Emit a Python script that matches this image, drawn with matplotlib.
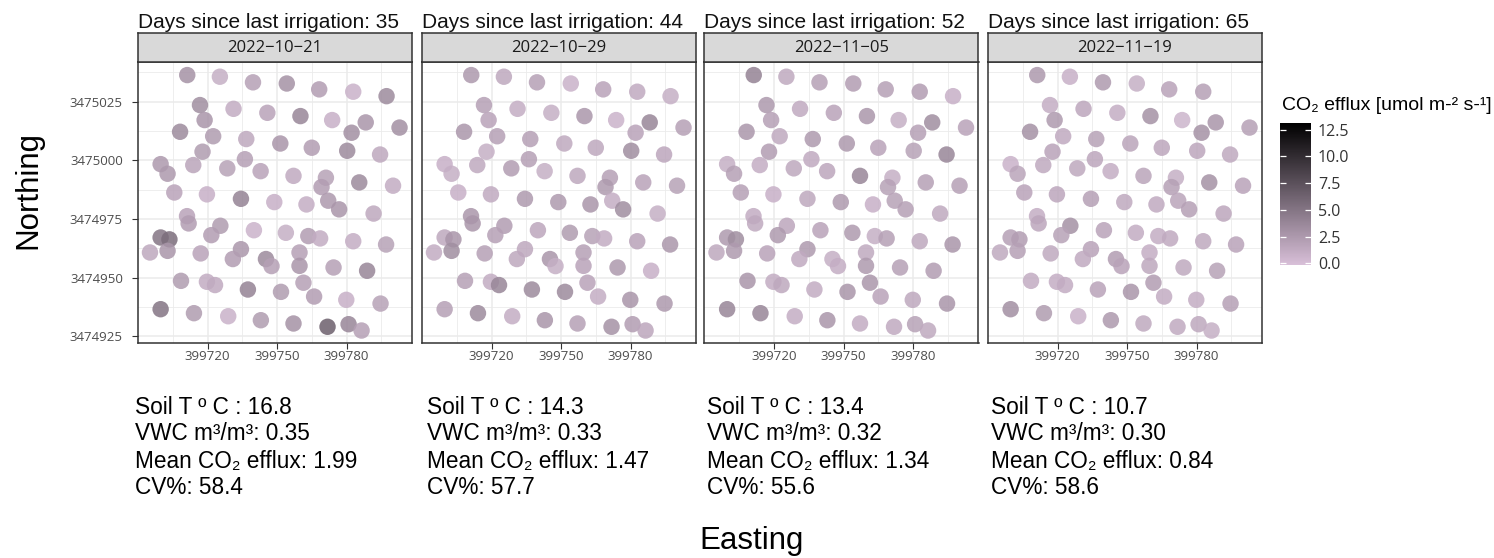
import numpy as np
import matplotlib
matplotlib.use("Agg")
import matplotlib.pyplot as plt
from matplotlib.colors import LinearSegmentedColormap, Normalize
from matplotlib.colorbar import ColorbarBase

# sampling collars (UTM), same grid on every date
easting = [399711.2, 399725.3, 399739.6, 399754.2, 399768.2, 399782.9, 399797.3,
           399716.7, 399731.2, 399745.8, 399760.1, 399773.8, 399718.7, 399788.3,
           399708.1, 399802.9, 399782.2, 399722.4, 399736.7, 399751.4, 399765.0, 399780.3, 399794.5, 399717.8,
           399699.7, 399713.8, 399736.1, 399702.7, 399728.5, 399742.9, 399757.1, 399771.1, 399769.2, 399785.5, 399800.1,
           399705.6, 399719.7, 399734.4, 399748.8, 399762.7, 399772.1, 399776.8, 399791.7,
           399711.1, 399711.8, 399725.5, 399721.6, 399740.0, 399753.8, 399763.5, 399768.6, 399782.9, 399797.1,
           399699.7, 399703.5, 399695.1, 399702.7, 399717.0, 399734.4, 399730.9, 399745.2, 399747.6, 399759.7,
           399759.7, 399774.4, 399788.9,
           399708.5, 399719.7, 399723.2, 399737.4, 399751.7, 399761.4, 399766.0, 399779.9, 399794.7,
           399699.7, 399714.1, 399728.9, 399743.0, 399757.1, 399771.8, 399780.9, 399786.5]
northing = [3475036.4, 3475035.7, 3475033.3, 3475032.8, 3475030.3, 3475029.3, 3475027.4,
            3475023.6, 3475022.0, 3475020.3, 3475018.9, 3475017.2, 3475017.2, 3475016.2,
            3475012.2, 3475014.0, 3475011.8, 3475010.3, 3475009.1, 3475007.2, 3475005.4, 3475004.1, 3475002.5, 3475003.7,
            3474998.4, 3474998.0, 3475000.5, 3474994.3, 3474996.6, 3474995.4, 3474993.4, 3474992.6, 3474988.6, 3474990.6,
            3474989.2,
            3474986.3, 3474985.5, 3474983.6, 3474982.2, 3474981.2, 3474982.8, 3474979.1, 3474977.3,
            3474976.2, 3474973.1, 3474972.1, 3474968.1, 3474970.2, 3474969.1, 3474967.7, 3474966.7, 3474965.5, 3474964.1,
            3474967.1, 3474966.3, 3474960.7, 3474961.4, 3474960.3, 3474962.1, 3474957.9, 3474957.9, 3474954.9, 3474960.7,
            3474955.0, 3474954.3, 3474952.9,
            3474948.6, 3474948.2, 3474946.8, 3474944.9, 3474943.9, 3474947.8, 3474941.9, 3474940.5, 3474938.9,
            3474936.5, 3474934.8, 3474933.5, 3474931.8, 3474930.4, 3474929.0, 3474930.1, 3474927.4]

# CO2 efflux per collar and date
flux_1021 = [3.0, 1.0, 2.0, 3.0, 2.2, 0.8, 3.5,
             3.3, 1.2, 1.8, 3.8, 0.9, 2.8, 2.8,
             3.5, 3.2, 3.2, 2.3, 1.5, 2.8, 2.2, 3.5, 1.5, 2.3,
             2.5, 1.7, 2.0, 2.5, 1.9, 1.8, 1.3, 1.9, 2.2, 3.5, 1.2,
             1.8, 0.9, 4.0, 0.9, 1.1, 2.5, 2.8, 1.5,
             1.8, 2.2, 2.3, 2.2, 0.7, 1.0, 2.2, 1.2, 1.1, 1.9,
             5.0, 5.5, 1.5, 2.7, 1.8, 2.6, 2.2, 3.5, 2.0, 2.0, 2.8, 2.0, 3.8,
             2.3, 1.2, 1.3, 4.0, 2.3, 2.0, 2.2, 0.9, 1.9,
             5.0, 2.3, 0.8, 2.3, 3.0, 6.5, 3.8, 2.0]
flux_1029 = [2.5, 1.5, 2.0, 0.8, 1.8, 1.3, 1.0,
             2.0, 1.1, 1.0, 2.6, 0.7, 1.8, 3.8,
             2.6, 2.0, 1.8, 2.0, 2.0, 1.4, 1.5, 3.3, 1.6, 1.0,
             0.9, 1.4, 2.0, 1.0, 2.2, 1.0, 1.5, 2.0, 2.4, 1.8, 1.9,
             0.9, 1.3, 2.4, 2.4, 2.8, 1.1, 3.3, 1.0,
             2.6, 2.8, 2.2, 2.0, 1.6, 2.3, 1.9, 1.2, 1.8, 2.6,
             1.5, 2.8, 1.2, 3.3, 2.0, 1.5, 1.5, 2.8, 1.0, 2.0, 1.8, 2.5, 0.9,
             2.0, 1.2, 3.8, 3.5, 3.5, 1.8, 1.1, 2.8, 2.5,
             2.0, 3.5, 1.1, 2.7, 2.0, 3.0, 2.2, 1.6]
flux_1105 = [4.0, 1.4, 2.0, 2.2, 2.0, 2.2, 0.9,
             2.5, 1.3, 1.8, 2.6, 1.0, 2.0, 3.3,
             2.6, 1.8, 2.0, 1.4, 2.4, 2.5, 1.8, 1.9, 3.8, 2.2,
             1.0, 1.1, 1.3, 2.0, 1.5, 1.6, 3.8, 1.0, 1.9, 2.0, 2.0,
             2.0, 0.9, 1.5, 2.4, 0.9, 1.9, 2.0, 1.4,
             1.2, 1.4, 1.6, 2.4, 1.8, 2.4, 1.0, 2.0, 1.5, 2.8,
             2.4, 3.3, 1.5, 2.4, 1.8, 2.4, 1.3, 1.0, 1.1, 1.4, 2.4, 2.0, 2.2,
             2.8, 1.2, 1.5, 1.2, 2.7, 2.6, 1.8, 1.5, 2.8,
             3.8, 3.8, 1.1, 2.8, 1.2, 1.3, 1.9, 1.4]
flux_1119 = [2.5, 0.9, 2.4, 1.0, 1.8, 2.0, np.nan,
             1.1, 1.6, 1.1, 3.0, 0.6, 2.4, 2.8,
             3.0, 2.0, 3.0, 1.3, 1.9, 1.7, 1.6, 1.6, 1.4, 1.8,
             0.8, 1.4, 1.6, 1.7, 1.5, 1.1, 1.7, 1.0, 2.0, 3.0, 1.8,
             1.8, 1.6, 2.0, 1.4, 1.3, 1.7, 2.0, 1.6,
             1.1, 1.6, 3.0, 1.9, 1.8, 1.2, 1.1, 1.3, 1.4, 1.8,
             2.0, 2.2, 1.4, 2.0, 1.4, 1.8, 1.3, 2.2, 1.8, 1.1, 1.5, 1.4, 1.9,
             1.2, 1.1, 1.2, 1.8, 2.8, 2.2, 1.2, 1.1, 2.0,
             3.2, 2.3, 0.8, 2.5, 1.4, 1.3, 1.5, 1.0]

dates = ["2022\u221210\u221221", "2022\u221210\u221229", "2022\u221211\u221205", "2022\u221211\u221219"]
days_since = [35, 44, 52, 65]
soil_temp = [16.8, 14.3, 13.4, 10.7]
vwc = [0.35, 0.33, 0.32, 0.30]
mean_flux = [1.99, 1.47, 1.34, 0.84]
cv = [58.4, 57.7, 55.6, 58.6]
flux = [flux_1021, flux_1029, flux_1105, flux_1119]

flux_min, flux_max = -0.15, 13.1
x_breaks = [399720, 399750, 399780]
y_breaks = [3474925, 3474950, 3474975, 3475000, 3475025]

W, H = 1494, 558
fig = plt.figure(figsize=(W / 100, H / 100), dpi=100)
TXT = ["Liberation Sans", "DejaVu Sans"]
SMALL = ["Open Sans", "DejaVu Sans"]

def fx(px):
    return px / W

def fy(py):
    return 1 - py / H

cmap = LinearSegmentedColormap.from_list("thistle_black", ["thistle", "black"])
norm = Normalize(vmin=flux_min, vmax=flux_max)

# ggplot-style 5% expansion
def expand(v):
    lo, hi = min(v), max(v)
    pad = (hi - lo) * 0.05
    return lo - pad, hi + pad

xlim = expand(easting)
ylim = expand(northing)

lefts = [137.5, 421.5, 704.0, 987.5]
pw = 274.5
strip_top, top, bottom = 33.3, 62.3, 343.3

for i, left in enumerate(lefts):
    ax = fig.add_axes([fx(left), fy(bottom), fx(pw), (bottom - top) / H])
    ax.scatter(easting, northing, c=flux[i], cmap=cmap, norm=norm,
               s=140, alpha=0.85, linewidths=0, zorder=3)
    ax.set_xlim(xlim)
    ax.set_ylim(ylim)
    ax.set_xticks(x_breaks)
    ax.set_xticks([b + 15 for b in [399690] + x_breaks], minor=True)
    ax.set_yticks(y_breaks)
    ax.set_yticks([b + 12.5 for b in y_breaks], minor=True)
    ax.grid(which="major", color="#EBEBEB", lw=1.1, zorder=0)
    ax.grid(which="minor", color="#EBEBEB", lw=0.6, zorder=0)
    ax.tick_params(which="minor", length=0)
    ax.tick_params(which="major", length=4.5, width=0.8, color="#333333",
                   labelcolor="#4D4D4D", labelsize=9.5)
    ax.tick_params(axis="x", pad=0.5)
    ax.tick_params(axis="y", pad=6)
    ax.set_xticklabels([str(b) for b in x_breaks], family=SMALL)
    if i == 0:
        ax.set_yticklabels([str(b) for b in y_breaks], family=SMALL)
    else:
        ax.set_yticklabels([])
        ax.tick_params(axis="y", length=0)
    for sp in ax.spines.values():
        sp.set_color("#333333")
        sp.set_linewidth(1.1)

    # facet strip
    st = fig.add_axes([fx(left), fy(top), fx(pw), (top - strip_top) / H])
    st.set_facecolor("#D9D9D9")
    st.set_xticks([])
    st.set_yticks([])
    for sp in st.spines.values():
        sp.set_color("#333333")
        sp.set_linewidth(1.1)
    st.text(0.5, 0.5, dates[i], ha="center", va="center", fontsize=12,
            color="#1A1A1A", family=SMALL, transform=st.transAxes)

    fig.text(fx(left), fy(28.5), f"Days since last irrigation: {days_since[i]}",
             ha="left", va="baseline", fontsize=15, family=TXT, color="#111111")

    # site summary under each panel
    block_x = [135, 427, 707, 991][i]
    lines = [f"Soil T \u00ba C : {soil_temp[i]:.1f}",
             f"VWC m\u00b3/m\u00b3: {vwc[i]:.2f}",
             f"Mean CO\u2082 efflux: {mean_flux[i]:.2f}",
             f"CV%: {cv[i]:.1f}"]
    for j, line in enumerate(lines):
        fig.text(fx(block_x), fy(407 + 27 * j), line, ha="left", va="center",
                 fontsize=16.3, family=TXT, color="black")

fig.text(fx(28), fy(190), "Northing", rotation=90, ha="center", va="center",
         fontsize=22.5, family=TXT)
fig.text(fx(752), fy(541), "Easting", ha="center", va="center",
         fontsize=22.5, family=TXT)

# colour bar
cax = fig.add_axes([fx(1280), fy(265), fx(31), (265 - 123.3) / H])
cb = ColorbarBase(cax, cmap=cmap, norm=norm, orientation="vertical")
cb.outline.set_visible(False)
cticks = [0, 2.5, 5, 7.5, 10, 12.5]
cb.set_ticks(cticks)
cb.set_ticklabels([f"{t:.1f}" for t in cticks])
cax.tick_params(length=0, pad=5, labelsize=11.5, labelcolor="#333333")
for lab in cax.get_yticklabels():
    lab.set_family(SMALL)
cax.hlines(cticks, 0, 0.2, transform=cax.get_yaxis_transform(), color="white", lw=0.9)
cax.hlines(cticks, 0.8, 1, transform=cax.get_yaxis_transform(), color="white", lw=0.9)
fig.text(fx(1282), fy(105), "CO\u2082 efflux [umol m-\u00b2 s-\u00b9]", ha="left",
         va="center", fontsize=14, family=TXT)

fig.savefig("out.png", dpi=100)
